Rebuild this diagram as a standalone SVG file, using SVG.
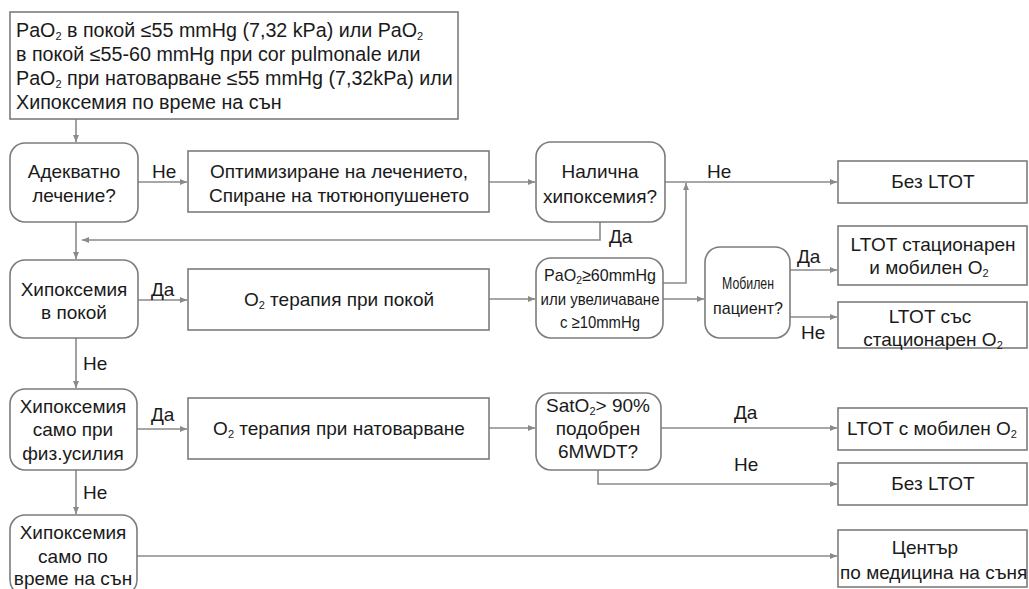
<svg xmlns="http://www.w3.org/2000/svg" width="1029" height="589" viewBox="0 0 1029 589">
<defs>
<marker id="arr" markerWidth="8" markerHeight="8" refX="7" refY="4" orient="auto" markerUnits="userSpaceOnUse">
<path d="M0,1 L7,4 L0,7 Z" fill="#8a8a8a"/>
</marker>
<style>
.bx{fill:#fff;stroke:#7c7c7c;stroke-width:1.6}
.t{font-family:"Liberation Sans",Arial,sans-serif;font-size:19px;fill:#1a1a1a}
.tb{font-size:19.7px}
.s{font-size:17px}
.m{text-anchor:middle}
.sub{font-size:11px;baseline-shift:-3px}
.ln{fill:none;stroke:#8a8a8a;stroke-width:1.6}
.lb{font-family:"Liberation Sans",Arial,sans-serif;font-size:19px;fill:#1a1a1a}
</style>
</defs>
<rect width="1029" height="589" fill="#fff"/>

<g id="connectors">
<path class="ln" d="M76,119 V142" marker-end="url(#arr)"/>
<path class="ln" d="M138,182 H187" marker-end="url(#arr)"/>
<path class="ln" d="M489,182 H535" marker-end="url(#arr)"/>
<path class="ln" d="M665,182 H837" marker-end="url(#arr)"/>
<path class="ln" d="M600,222 V240 H82" marker-end="url(#arr)"/>
<path class="ln" d="M76,222 V259" marker-end="url(#arr)"/>
<path class="ln" d="M138,300 H187" marker-end="url(#arr)"/>
<path class="ln" d="M489,299 H535" marker-end="url(#arr)"/>
<path class="ln" d="M663,299 H704" marker-end="url(#arr)"/>
<path class="ln" d="M663,283 H686 V183" marker-end="url(#arr)"/>
<path class="ln" d="M790,270 H837" marker-end="url(#arr)"/>
<path class="ln" d="M790,317 H837" marker-end="url(#arr)"/>
<path class="ln" d="M76,338 V388" marker-end="url(#arr)"/>
<path class="ln" d="M137,429 H187" marker-end="url(#arr)"/>
<path class="ln" d="M489,428 H535" marker-end="url(#arr)"/>
<path class="ln" d="M661,428 H837" marker-end="url(#arr)"/>
<path class="ln" d="M598,470 V484 H837" marker-end="url(#arr)"/>
<path class="ln" d="M76,470 V514" marker-end="url(#arr)"/>
<path class="ln" d="M137,556 H837" marker-end="url(#arr)"/>
<text class="lb" x="152" y="178">Не</text>
<text class="lb" x="707" y="178">Не</text>
<text class="lb" x="609" y="243">Да</text>
<text class="lb" x="151" y="296">Да</text>
<text class="lb" x="83" y="370">Не</text>
<text class="lb" x="797" y="263">Да</text>
<text class="lb" x="801" y="339">Не</text>
<text class="lb" x="151" y="421">Да</text>
<text class="lb" x="83" y="499">Не</text>
<text class="lb" x="734" y="419">Да</text>
<text class="lb" x="734" y="471">Не</text>
</g>

<g id="n-criteria">
<rect class="bx" x="10" y="12" width="448" height="107"/>
<text class="t tb" x="16" y="37">PaO<tspan class="sub">2</tspan> в покой ≤55 mmHg (7,32 kPa) или PaO<tspan class="sub">2</tspan></text>
<text class="t tb" x="16" y="61">в покой ≤55-60 mmHg при cor pulmonale или</text>
<text class="t tb" x="16" y="85">PaO<tspan class="sub">2</tspan> при натоварване ≤55 mmHg (7,32kPa) или</text>
<text class="t tb" x="16" y="109">Хипоксемия по време на сън</text>
</g>

<g id="n-adequate">
<rect class="bx" x="10" y="143" width="128" height="79" rx="15"/>
<text class="t m" x="74" y="178">Адекватно</text>
<text class="t m" x="74" y="202">лечение?</text>
</g>

<g id="n-optimize">
<rect class="bx" x="188" y="151" width="301" height="61"/>
<text class="t m" x="339" y="178">Оптимизиране на лечението,</text>
<text class="t m" x="339" y="202">Спиране на тютюнопушенето</text>
</g>

<g id="n-hypox-present">
<rect class="bx" x="536" y="142" width="129" height="80" rx="15"/>
<text class="t m" x="600" y="178">Налична</text>
<text class="t m" x="600" y="203">хипоксемия?</text>
</g>

<g id="n-no-ltot-1">
<rect class="bx" x="838" y="161" width="189" height="42"/>
<text class="t m" x="933" y="188">Без LTOT</text>
</g>

<g id="n-hypox-rest">
<rect class="bx" x="10" y="260" width="128" height="78" rx="15"/>
<text class="t m" x="74" y="296">Хипоксемия</text>
<text class="t m" x="74" y="319">в покой</text>
</g>

<g id="n-o2-rest">
<rect class="bx" x="188" y="269" width="301" height="61"/>
<text class="t m" x="339" y="306">O<tspan class="sub">2</tspan> терапия при покой</text>
</g>

<g id="n-pao2">
<rect class="bx" x="536" y="258" width="127" height="80" rx="15"/>
<text class="t s m" x="600" y="281" textLength="112" lengthAdjust="spacingAndGlyphs">PaO<tspan class="sub">2</tspan>≥60mmHg</text>
<text class="t s m" x="600" y="305" textLength="119" lengthAdjust="spacingAndGlyphs">или увеличаване</text>
<text class="t s m" x="600" y="328" textLength="80" lengthAdjust="spacingAndGlyphs">с ≥10mmHg</text>
</g>

<g id="n-mobile">
<rect class="bx" x="705" y="247" width="85" height="91" rx="15"/>
<text class="t s m" x="748" y="289" textLength="52" lengthAdjust="spacingAndGlyphs">Мобилен</text>
<text class="t s m" x="748" y="314" textLength="70" lengthAdjust="spacingAndGlyphs">пациент?</text>
</g>

<g id="n-ltot-stat-mob">
<rect class="bx" x="838" y="226" width="189" height="59"/>
<text class="t m" x="933" y="251">LTOT стационарен</text>
<text class="t m" x="929" y="274">и  мобилен O<tspan class="sub">2</tspan></text>
</g>

<g id="n-ltot-stat">
<rect class="bx" x="838" y="302" width="189" height="46"/>
<text class="t m" x="930" y="323">LTOT със</text>
<text class="t m" x="933" y="346">стационарен O<tspan class="sub">2</tspan></text>
</g>

<g id="n-hypox-exercise">
<rect class="bx" x="10" y="389" width="127" height="81" rx="15"/>
<text class="t m" x="73" y="413">Хипоксемия</text>
<text class="t m" x="73" y="436">само при</text>
<text class="t m" x="73" y="460">физ.усилия</text>
</g>

<g id="n-o2-exercise">
<rect class="bx" x="188" y="398" width="301" height="61"/>
<text class="t m" x="339" y="435">O<tspan class="sub">2</tspan> терапия при натоварване</text>
</g>

<g id="n-sat">
<rect class="bx" x="536" y="393" width="125" height="77" rx="15"/>
<text class="t m" x="598" y="412">SatO<tspan class="sub">2</tspan>&gt; 90%</text>
<text class="t m" x="598" y="435">подобрен</text>
<text class="t m" x="598" y="458">6MWDT?</text>
</g>

<g id="n-ltot-mob">
<rect class="bx" x="838" y="408" width="189" height="42"/>
<text class="t m" x="932" y="435">LTOT с мобилен O<tspan class="sub">2</tspan></text>
</g>

<g id="n-no-ltot-2">
<rect class="bx" x="838" y="463" width="189" height="42"/>
<text class="t m" x="933" y="490">Без LTOT</text>
</g>

<g id="n-hypox-sleep">
<rect class="bx" x="10" y="515" width="127" height="80" rx="15"/>
<text class="t m" x="73" y="539">Хипоксемия</text>
<text class="t m" x="73" y="563">само по</text>
<text class="t m" x="73" y="585">време на сън</text>
</g>

<g id="n-sleep-center">
<rect class="bx" x="838" y="530" width="189" height="57"/>
<text class="t m" x="925" y="554">Център</text>
<text class="t" x="840" y="579">по медицина на съня</text>
</g>
</svg>
